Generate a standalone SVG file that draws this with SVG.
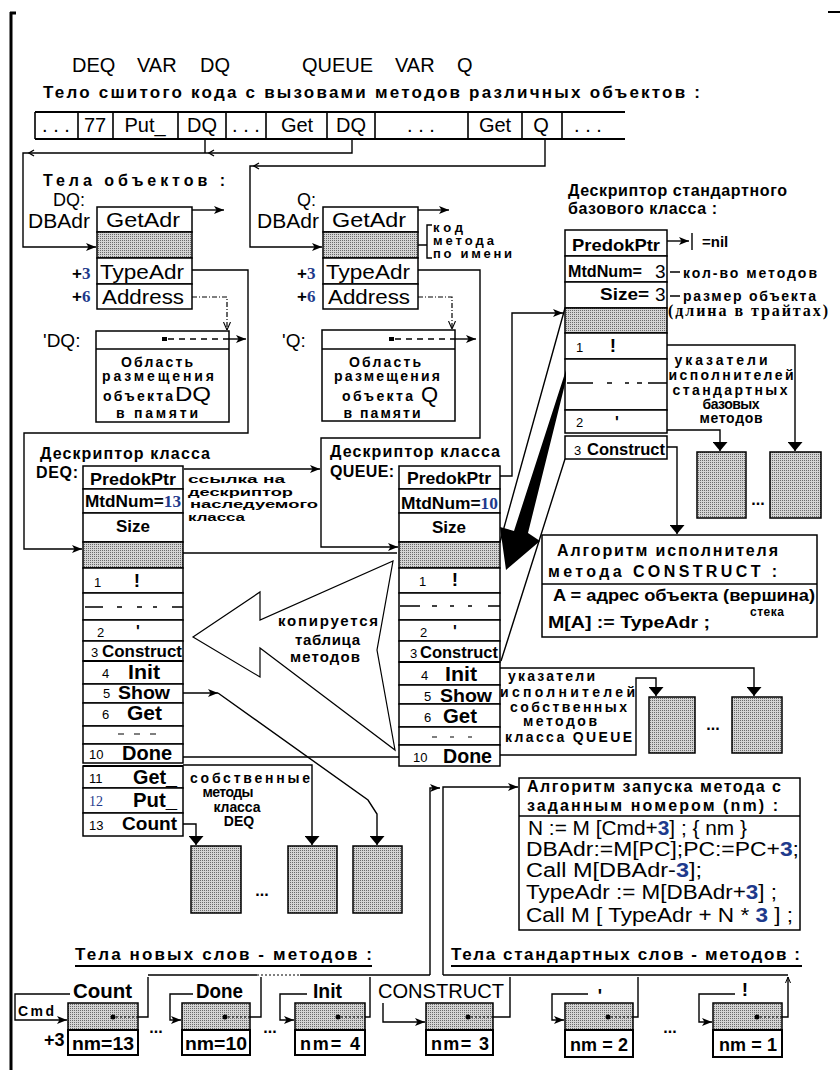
<svg xmlns="http://www.w3.org/2000/svg" width="840" height="1070" viewBox="0 0 840 1070">
<style>
text{font-family:"Liberation Sans",Arial,sans-serif;fill:#000}
.b{font-weight:bold}
.sf{font-family:"Liberation Serif","Times New Roman",serif}
.c{text-anchor:middle}
.bl{fill:#1e3a8c}
.ln{fill:none;stroke:#000;stroke-width:1.4}
.dd{fill:none;stroke:#000;stroke-width:1.2;stroke-dasharray:5,2,1,2}
.dt{fill:none;stroke:#000;stroke-width:1.2;stroke-dasharray:2,2}
.bx{fill:#fff;stroke:#000;stroke-width:1.5}
.bk{fill:#fff;stroke:#000;stroke-width:2}
.sh{fill:url(#dots);stroke:#000;stroke-width:1.5}
.th{stroke:#000;stroke-width:2.2}
</style>
<defs>
<pattern id="dots" width="2" height="2" patternUnits="userSpaceOnUse"><rect width="2" height="2" fill="#d4d4d4"/><rect width="1" height="1" fill="#6a6a6a"/></pattern>
<marker id="a" viewBox="0 0 10 8" refX="10" refY="4" markerWidth="10" markerHeight="8" orient="auto" markerUnits="userSpaceOnUse"><path d="M0,0L10,4L0,8L2.5,4z" fill="#000"/></marker>
<marker id="D" viewBox="0 0 9 15" refX="9" refY="7.5" markerWidth="9" markerHeight="15" orient="auto" markerUnits="userSpaceOnUse"><path d="M0,0L9,7.5L0,15z" fill="#000"/></marker>
<marker id="o" viewBox="0 0 6 6" refX="6" refY="3" markerWidth="6" markerHeight="6" orient="auto" markerUnits="userSpaceOnUse"><path d="M0,0.5L6,3L0,5.5" fill="none" stroke="#000" stroke-width="1"/></marker>
<marker id="v" viewBox="0 0 8 8" refX="8" refY="4" markerWidth="8" markerHeight="8" orient="auto" markerUnits="userSpaceOnUse"><path d="M0,0.5L8,4L0,7.5" fill="none" stroke="#000" stroke-width="1.1"/></marker>
</defs>
<rect width="840" height="1070" fill="#fff"/>

<g id="frame">
<path d="M11,12V1070M10,13H16" stroke="#000" stroke-width="3" fill="none"/>
<path d="M828,12H840" stroke="#000" stroke-width="2"/>
</g>

<g id="header">
<text x="72" y="72" font-size="20">DEQ</text>
<text x="137" y="72" font-size="20">VAR</text>
<text x="200" y="72" font-size="20">DQ</text>
<text x="302" y="72" font-size="20">QUEUE</text>
<text x="395" y="72" font-size="20">VAR</text>
<text x="457" y="72" font-size="20">Q</text>
<text x="43" y="98" font-size="17" class="b" textLength="657">Тело сшитого кода с вызовами методов различных объектов :</text>
</g>

<g id="strip">
<path d="M35,112H625M35,139H625" stroke="#000" stroke-width="2"/>
<path d="M35,112V139M78,112V139M113,112V139M178,112V139M226,112V139M266,112V139M327,112V139M375,112V139M468,112V139M522,112V139M562,112V139" stroke="#000" stroke-width="1.6"/>
<g font-size="20">
<text x="56" y="132" class="c">. . .</text>
<text x="95" y="132" class="c">77</text>
<text x="145" y="132" class="c">Put_</text>
<text x="202" y="132" class="c">DQ</text>
<text x="246" y="132" class="c">. . .</text>
<text x="297" y="132" class="c">Get</text>
<text x="351" y="132" class="c">DQ</text>
<text x="421" y="132" class="c">. . .</text>
<text x="495" y="132" class="c">Get</text>
<text x="541" y="132" class="c">Q</text>
<text x="588" y="132" class="c">. . .</text>
</g>
</g>

<g id="obj-DQ">
<text x="43" y="186" font-size="16" class="b" textLength="182">Тела объектов :</text>
<text x="53" y="206" font-size="18">DQ:</text>
<text x="28" y="228" font-size="20" textLength="62" lengthAdjust="spacingAndGlyphs">DBAdr</text>
<rect x="97" y="207" width="95" height="25" class="bx"/>
<rect x="97" y="232" width="95" height="26" class="sh"/>
<rect x="97" y="258" width="95" height="26" class="bx"/>
<rect x="97" y="284" width="95" height="25" class="bx"/>
<text x="106" y="227" font-size="21" textLength="74" lengthAdjust="spacingAndGlyphs">GetAdr</text>
<text x="100" y="279" font-size="21" textLength="84" lengthAdjust="spacingAndGlyphs">TypeAdr</text>
<text x="102" y="304" font-size="21" fill="#222" textLength="82" lengthAdjust="spacingAndGlyphs">Address</text>
<text x="72" y="279" font-size="17" class="b">+<tspan class="sf bl">3</tspan></text>
<text x="72" y="302" font-size="17" class="b">+<tspan class="sf bl">6</tspan></text>
</g>

<g id="obj-Q">
<text x="297" y="206" font-size="18">Q:</text>
<text x="257" y="228" font-size="20" textLength="62" lengthAdjust="spacingAndGlyphs">DBAdr</text>
<rect x="323" y="207" width="95" height="25" class="bx"/>
<rect x="323" y="232" width="95" height="26" class="sh"/>
<rect x="323" y="258" width="95" height="26" class="bx"/>
<rect x="323" y="284" width="95" height="25" class="bx"/>
<text x="332" y="227" font-size="21" textLength="74" lengthAdjust="spacingAndGlyphs">GetAdr</text>
<text x="326" y="279" font-size="21" textLength="84" lengthAdjust="spacingAndGlyphs">TypeAdr</text>
<text x="328" y="304" font-size="21" fill="#222" textLength="82" lengthAdjust="spacingAndGlyphs">Address</text>
<text x="297" y="279" font-size="17" class="b">+<tspan class="sf bl">3</tspan></text>
<text x="297" y="302" font-size="17" class="b">+<tspan class="sf bl">6</tspan></text>
<path d="M418,245H427M432,225H427V258H432" class="ln" stroke-width="1.1"/>
<g font-size="13" class="b">
<text x="433" y="232" textLength="30">код</text>
<text x="433" y="245" textLength="61">метода</text>
<text x="433" y="258" textLength="79">по имени</text>
</g>
</g>

<g id="area-DQ">
<text x="43" y="347" font-size="19">'DQ:</text>
<rect x="96" y="331" width="133" height="91" class="bx"/>
<path d="M96,349H229" stroke="#000" stroke-width="1.5"/>
<rect x="162" y="337" width="5" height="4"/>
<path d="M168,339H229" stroke="#000" stroke-width="1.3" stroke-dasharray="6,5"/>
<g font-size="14" class="b">
<text x="157" y="367" class="c" textLength="72">Область</text>
<text x="158" y="381" class="c" textLength="112">размещения</text>
<text x="103" y="401" textLength="70">объекта</text>
<text x="157" y="418" class="c" textLength="82">в памяти</text>
</g>
<text x="175" y="401" font-size="20" textLength="36" lengthAdjust="spacingAndGlyphs">DQ</text>
</g>

<g id="area-Q">
<text x="282" y="347" font-size="19">'Q:</text>
<rect x="322" y="330" width="133" height="91" class="bx"/>
<path d="M322,349H455" stroke="#000" stroke-width="1.5"/>
<rect x="389" y="337" width="5" height="4"/>
<path d="M395,339H455" stroke="#000" stroke-width="1.3" stroke-dasharray="6,5"/>
<g font-size="14" class="b">
<text x="385" y="367" class="c" textLength="72">Область</text>
<text x="387" y="381" class="c" textLength="106">размещения</text>
<text x="342" y="401" textLength="71">объекта</text>
<text x="382" y="418" class="c" textLength="77">в памяти</text>
</g>
<text x="421" y="402" font-size="22">Q</text>
</g>

<g id="desc-DEQ">
<text x="40" y="459" font-size="16" class="b" textLength="170">Дескриптор класса</text>
<text x="36" y="478" font-size="16" class="b" textLength="42">DEQ:</text>
<rect x="83" y="466" width="100" height="23" class="bx"/>
<rect x="83" y="489" width="100" height="24" class="bx"/>
<rect x="83" y="513" width="100" height="29" class="bx"/>
<rect x="83" y="542" width="100" height="26" class="sh"/>
<rect x="83" y="568" width="100" height="25" class="bx"/>
<rect x="83" y="593" width="100" height="27" class="bx"/>
<rect x="83" y="620" width="100" height="21" class="bx"/>
<rect x="83" y="641" width="100" height="20" class="bx"/>
<rect x="83" y="661" width="100" height="23" class="bx"/>
<rect x="83" y="684" width="100" height="19" class="bx"/>
<rect x="83" y="703" width="100" height="23" class="bx"/>
<rect x="83" y="726" width="100" height="18" class="bx"/>
<rect x="83" y="744" width="100" height="19" class="bx"/>
<rect x="83" y="766" width="100" height="22" class="bx"/>
<rect x="83" y="788" width="100" height="25" class="bx"/>
<rect x="83" y="813" width="100" height="23" class="bx"/>
<path d="M83,661H183M83,766H183" class="th"/>
<text x="133" y="485" font-size="17" class="b c" textLength="86" lengthAdjust="spacingAndGlyphs">PredokPtr</text>
<text x="85" y="507" font-size="16" class="b" textLength="96" lengthAdjust="spacingAndGlyphs">MtdNum=<tspan class="sf bl">13</tspan></text>
<text x="133" y="532" font-size="17" class="b c">Size</text>
<text x="94" y="587" font-size="13">1</text>
<text x="137" y="587" font-size="19" class="b c">!</text>
<path d="M85,607H103M117,607H122M137,607H142M153,607H157M172,607H183" stroke="#000" stroke-width="1.3"/>
<text x="97" y="637" font-size="13">2</text>
<text x="138" y="637" font-size="16" class="b c">'</text>
<text x="91" y="657" font-size="13">3</text>
<text x="102" y="657" font-size="17" class="b" textLength="80" lengthAdjust="spacingAndGlyphs">Construct</text>
<text x="102" y="678" font-size="13">4</text>
<text x="128" y="679" font-size="20" class="b" textLength="32" lengthAdjust="spacingAndGlyphs">Init</text>
<text x="103" y="698" font-size="13">5</text>
<text x="118" y="699" font-size="19" class="b" textLength="52" lengthAdjust="spacingAndGlyphs">Show</text>
<text x="102" y="719" font-size="13">6</text>
<text x="127" y="720" font-size="20" class="b" textLength="35" lengthAdjust="spacingAndGlyphs">Get</text>
<path d="M118,734H124M134,734H140M150,734H156" stroke="#000" stroke-width="1.2"/>
<text x="89" y="759" font-size="13">10</text>
<text x="122" y="760" font-size="20" class="b" textLength="50" lengthAdjust="spacingAndGlyphs">Done</text>
<text x="89" y="783" font-size="13">11</text>
<text x="133" y="784" font-size="20" class="b" textLength="44" lengthAdjust="spacingAndGlyphs">Get_</text>
<text x="89" y="806" font-size="14" class="sf bl">12</text>
<text x="133" y="807" font-size="20" class="b" textLength="44" lengthAdjust="spacingAndGlyphs">Put_</text>
<text x="89" y="830" font-size="13">13</text>
<text x="122" y="830" font-size="19" class="b" textLength="55" lengthAdjust="spacingAndGlyphs">Count</text>
</g>

<g id="desc-QUEUE">
<text x="330" y="457" font-size="16" class="b" textLength="170">Дескриптор класса</text>
<text x="330" y="477" font-size="16" class="b" textLength="64">QUEUE:</text>
<rect x="399" y="466" width="101" height="23" class="bx"/>
<rect x="399" y="489" width="101" height="24" class="bx"/>
<rect x="399" y="513" width="101" height="29" class="bx"/>
<rect x="399" y="542" width="101" height="26" class="sh"/>
<rect x="399" y="568" width="101" height="25" class="bx"/>
<rect x="399" y="593" width="101" height="27" class="bx"/>
<rect x="399" y="620" width="101" height="21" class="bx"/>
<rect x="399" y="641" width="101" height="21" class="bx"/>
<rect x="399" y="662" width="101" height="23" class="bx"/>
<rect x="399" y="685" width="101" height="19" class="bx"/>
<rect x="399" y="704" width="101" height="23" class="bx"/>
<rect x="399" y="727" width="101" height="18" class="bx"/>
<rect x="399" y="745" width="101" height="21" class="bx"/>
<path d="M399,662H500" class="th"/>
<text x="449" y="484" font-size="17" class="b c" textLength="84" lengthAdjust="spacingAndGlyphs">PredokPtr</text>
<text x="401" y="509" font-size="16" class="b" textLength="97" lengthAdjust="spacingAndGlyphs">MtdNum=<tspan class="sf bl">10</tspan></text>
<text x="449" y="533" font-size="17" class="b c">Size</text>
<text x="419" y="586" font-size="13">1</text>
<text x="455" y="586" font-size="19" class="b c">!</text>
<path d="M400,606H420M432,606H437M450,606H454M468,606H472M488,606H500" stroke="#000" stroke-width="1.3"/>
<text x="420" y="637" font-size="13">2</text>
<text x="455" y="637" font-size="16" class="b c">'</text>
<text x="410" y="658" font-size="13">3</text>
<text x="420" y="658" font-size="17" class="b" textLength="78" lengthAdjust="spacingAndGlyphs">Construct</text>
<text x="421" y="680" font-size="13">4</text>
<text x="445" y="681" font-size="20" class="b" textLength="32" lengthAdjust="spacingAndGlyphs">Init</text>
<text x="424" y="701" font-size="13">5</text>
<text x="440" y="702" font-size="19" class="b" textLength="52" lengthAdjust="spacingAndGlyphs">Show</text>
<text x="424" y="722" font-size="13">6</text>
<text x="443" y="723" font-size="20" class="b" textLength="34" lengthAdjust="spacingAndGlyphs">Get</text>
<path d="M432,737H437M450,737H454M468,737H472" stroke="#000" stroke-width="1.2"/>
<text x="413" y="762" font-size="13">10</text>
<text x="443" y="763" font-size="20" class="b" textLength="49" lengthAdjust="spacingAndGlyphs">Done</text>
</g>

<g id="desc-std">
<text x="568" y="196" font-size="16" class="b" textLength="219">Дескриптор стандартного</text>
<text x="568" y="214" font-size="16" class="b" textLength="149">базового класса :</text>
<rect x="565" y="230" width="102" height="26" class="bx"/>
<rect x="565" y="256" width="102" height="26" class="bx"/>
<rect x="565" y="282" width="102" height="26" class="bx"/>
<rect x="565" y="308" width="102" height="25" class="sh"/>
<rect x="565" y="333" width="102" height="26" class="bx"/>
<rect x="565" y="359" width="102" height="51" class="bx"/>
<rect x="565" y="410" width="102" height="23" class="bx"/>
<rect x="565" y="436" width="102" height="23" class="bx"/>
<text x="616" y="251" font-size="17" class="b c" textLength="88" lengthAdjust="spacingAndGlyphs">PredokPtr</text>
<text x="568" y="277" font-size="16" class="b" textLength="74" lengthAdjust="spacingAndGlyphs">MtdNum=</text>
<text x="655" y="278" font-size="19">3</text>
<text x="600" y="300" font-size="17" class="b" textLength="49" lengthAdjust="spacingAndGlyphs">Size=</text>
<text x="655" y="301" font-size="19">3</text>
<text x="576" y="352" font-size="13">1</text>
<text x="613" y="352" font-size="19" class="b c">!</text>
<path d="M567,383H593M607,383H612M625,383H629M637,383H642M648,383H667" stroke="#000" stroke-width="1.3"/>
<text x="576" y="427" font-size="13">2</text>
<text x="617" y="428" font-size="16" class="b c">'</text>
<text x="574" y="455" font-size="13">3</text>
<text x="587" y="455" font-size="17" class="b" textLength="78" lengthAdjust="spacingAndGlyphs">Construct</text>
<text x="702" y="247" font-size="15" class="b">=nil</text>
<path d="M670,272H680M670,296H680" stroke="#000" stroke-width="1.3"/>
<text x="683" y="278" font-size="14" class="b" textLength="134">кол-во методов</text>
<text x="683" y="301" font-size="14" class="b" textLength="133">размер объекта</text>
<text x="668" y="316" font-size="16" class="b sf" fill="#1f2f70" textLength="160">(длина в трайтах)</text>
<g font-size="14" class="b">
<text x="721" y="365" class="c" textLength="93">указатели</text>
<text x="731" y="380" class="c" textLength="125">исполнителей</text>
<text x="730" y="395" class="c" textLength="115">стандартных</text>
<text x="731" y="409" class="c" textLength="57">базовых</text>
<text x="731" y="423" class="c" textLength="63">методов</text>
</g>
</g>

<g id="gray-std">
<rect x="697" y="452" width="49" height="66" class="sh"/>
<rect x="770" y="452" width="51" height="66" class="sh"/>
<text x="758" y="505" font-size="16" class="b c">...</text>
</g>

<g id="algo-construct">
<rect x="542" y="535" width="275" height="102" class="bx"/>
<path d="M542,584H817" stroke="#000" stroke-width="1.5"/>
<text x="557" y="556" font-size="16" class="b" textLength="221">Алгоритм исполнителя</text>
<text x="548" y="577" font-size="16" class="b" textLength="229">метода CONSTRUCT :</text>
<text x="553" y="601" font-size="16" class="b" textLength="262" lengthAdjust="spacingAndGlyphs">A = адрес объекта (вершина)</text>
<text x="750" y="616" font-size="12" class="b" textLength="34">стека</text>
<text x="548" y="628" font-size="17" class="b" textLength="162" lengthAdjust="spacingAndGlyphs">M[A] := TypeAdr ;</text>
</g>

<g id="queue-own">
<g font-size="14" class="b">
<text x="508" y="681" textLength="87">указатели</text>
<text x="500" y="697" textLength="135">исполнителей</text>
<text x="510" y="712" textLength="117">собственных</text>
<text x="523" y="726" textLength="74">методов</text>
<text x="505" y="742" textLength="127">класса QUEUE</text>
</g>
<rect x="649" y="697" width="46" height="56" class="sh"/>
<rect x="732" y="697" width="50" height="56" class="sh"/>
<text x="713" y="730" font-size="16" class="b c">...</text>
</g>

<g id="algo-launch">
<rect x="519" y="778" width="281" height="152" class="bx"/>
<path d="M519,816H800" stroke="#000" stroke-width="1.5"/>
<text x="527" y="792" font-size="16" class="b" textLength="254">Алгоритм запуска метода с</text>
<text x="527" y="811" font-size="16" class="b" textLength="251">заданным номером (nm) :</text>
<g font-size="20">
<text x="528" y="835" textLength="219" lengthAdjust="spacingAndGlyphs">N := M [Cmd+<tspan class="b bl">3</tspan>] ; { nm }</text>
<text x="526" y="856" textLength="273" lengthAdjust="spacingAndGlyphs">DBAdr:=M[PC];PC:=PC+<tspan class="b bl">3</tspan>;</text>
<text x="526" y="877" textLength="176" lengthAdjust="spacingAndGlyphs">Call M[DBAdr-<tspan class="b bl">3</tspan>];</text>
<text x="526" y="899" textLength="251" lengthAdjust="spacingAndGlyphs">TypeAdr := M[DBAdr+<tspan class="b bl">3</tspan>] ;</text>
<text x="526" y="922" textLength="267" lengthAdjust="spacingAndGlyphs">Call M [ TypeAdr + N * <tspan class="b bl">3</tspan> ] ;</text>
</g>
</g>

<g id="deq-own">
<g font-size="14" class="b">
<text x="190" y="783" textLength="120">собственные</text>
<text x="228" y="797" class="c" textLength="51">методы</text>
<text x="237" y="812" class="c" textLength="47">класса</text>
<text x="239" y="826" class="c">DEQ</text>
</g>
<rect x="191" y="846" width="50" height="67" class="sh"/>
<rect x="288" y="846" width="49" height="67" class="sh"/>
<rect x="353" y="846" width="49" height="67" class="sh"/>
<text x="262" y="896" font-size="16" class="b c">...</text>
</g>

<g id="copy-arrow">
<polygon points="193,637 260,592 260,620 393,561 377,650 395,750 260,648 260,677" fill="none" stroke="#000" stroke-width="1.2"/>
<g font-size="15" class="b">
<text x="278" y="626" textLength="100">копируется</text>
<text x="295" y="645" textLength="65">таблица</text>
<text x="290" y="662" textLength="70">методов</text>
</g>
</g>

<g id="link-note">
<g font-size="11.2" class="b">
<text x="188" y="483" textLength="97" lengthAdjust="spacingAndGlyphs">ссылка на</text>
<text x="188" y="495.5" textLength="105" lengthAdjust="spacingAndGlyphs">дескриптор</text>
<text x="190" y="508" textLength="128" lengthAdjust="spacingAndGlyphs">наследуемого</text>
<text x="188" y="520.5" textLength="57" lengthAdjust="spacingAndGlyphs">класса</text>
</g>
</g>

<g id="words-new">
<text x="75" y="960" font-size="17" class="b" textLength="297">Тела новых слов - методов :</text>
<path d="M75,966H372" stroke="#000" stroke-width="2"/>
<g id="w-count">
<rect x="68" y="1003" width="70" height="27" class="sh" stroke-width="2"/>
<rect x="68" y="1030" width="70" height="25" class="bk"/>
<text x="103" y="1050" font-size="18" class="b c" textLength="62" lengthAdjust="spacingAndGlyphs">nm=13</text>
<text x="73" y="998" font-size="20" class="b" textLength="59" lengthAdjust="spacingAndGlyphs">Count</text>
<text x="18" y="1016" font-size="14" class="b" textLength="36">Cmd</text>
<text x="44" y="1046" font-size="18" class="b">+3</text>
</g>
<g id="w-done">
<rect x="182" y="1003" width="68" height="27" class="sh" stroke-width="2"/>
<rect x="182" y="1030" width="68" height="25" class="bk"/>
<text x="216" y="1050" font-size="18" class="b c" textLength="62" lengthAdjust="spacingAndGlyphs">nm=10</text>
<text x="196" y="998" font-size="20" class="b" textLength="47" lengthAdjust="spacingAndGlyphs">Done</text>
</g>
<g id="w-init">
<rect x="295" y="1003" width="70" height="27" class="sh" stroke-width="2"/>
<rect x="295" y="1030" width="70" height="25" class="bk"/>
<text x="330" y="1050" font-size="18" class="b c" textLength="60">nm= 4</text>
<text x="313" y="998" font-size="20" class="b" textLength="29" lengthAdjust="spacingAndGlyphs">Init</text>
</g>
<g id="w-construct">
<rect x="426" y="1003" width="67" height="27" class="sh" stroke-width="2"/>
<rect x="426" y="1030" width="67" height="25" class="bk"/>
<text x="460" y="1050" font-size="18" class="b c" textLength="58">nm= 3</text>
<text x="378" y="998" font-size="20" textLength="126" lengthAdjust="spacingAndGlyphs">CONSTRUCT</text>
</g>
<text x="156" y="1033" font-size="16" class="b c">...</text>
<text x="270" y="1033" font-size="16" class="b c">...</text>
</g>

<g id="words-std">
<text x="451" y="960" font-size="17" class="b" textLength="349">Тела стандартных слов - методов :</text>
<path d="M451,966H802" stroke="#000" stroke-width="2"/>
<g id="w-tick">
<rect x="565" y="1003" width="68" height="27" class="sh" stroke-width="2"/>
<rect x="565" y="1030" width="68" height="27" class="bk"/>
<text x="599" y="1051" font-size="18" class="b c" textLength="58">nm = 2</text>
<text x="600" y="1002" font-size="18" class="b c">'</text>
</g>
<g id="w-store">
<rect x="713" y="1003" width="69" height="27" class="sh" stroke-width="2"/>
<rect x="713" y="1030" width="69" height="27" class="bk"/>
<text x="748" y="1051" font-size="18" class="b c" textLength="58">nm = 1</text>
<text x="745" y="996" font-size="19" class="b c">!</text>
</g>
<text x="670" y="1033" font-size="16" class="b c">...</text>
</g>

<g id="connectors">
<path d="M205,139V153" class="ln"/>
<path d="M352,139V153H23V247H96" class="ln" marker-end="url(#a)"/>
<path d="M34,150L29,153L34,156M214,150L209,153L214,156M259,163L254,166L259,169" class="ln" stroke-width="1"/>
<path d="M545,139V166H250V247H322" class="ln" marker-end="url(#a)"/>
<path d="M192,210H224" class="ln" marker-end="url(#a)"/>
<path d="M418,210H449" class="ln" marker-end="url(#a)"/>
<path d="M192,270H248V433H24V549H82" class="ln" marker-end="url(#a)"/>
<path d="M418,270H480V438H321V547H398" class="ln" marker-end="url(#a)"/>
<path d="M192,297H227V330" class="dd" marker-end="url(#v)"/>
<path d="M418,297H452V329" class="dd" marker-end="url(#v)"/>
<path d="M229,339H246" class="ln" marker-end="url(#a)"/>
<path d="M455,339H476" class="ln" marker-end="url(#a)"/>
<path d="M184,469H320" class="ln" marker-end="url(#a)"/>
<path d="M500,476H512V313H563" class="ln" marker-end="url(#a)"/>
<path d="M667,241H689" class="ln" marker-end="url(#a)"/>
<path d="M692,233V250" class="ln"/>
<path d="M667,345H795V451" class="ln" marker-end="url(#D)"/>
<path d="M667,430H720V451" class="ln" marker-end="url(#D)"/>
<path d="M667,447H677V534" class="ln" marker-end="url(#D)"/>
<path d="M500,668H754V696" class="ln" marker-end="url(#D)"/>
<path d="M500,755H636V678H656V696" class="ln" marker-end="url(#D)"/>
<path d="M183,824H196V845" class="ln" marker-end="url(#D)"/>
<path d="M183,765H312V845" class="ln" marker-end="url(#D)"/>
<path d="M183,693H218" class="ln" marker-end="url(#a)"/>
<path d="M218,693L368,800L377,814V845" class="ln" marker-end="url(#D)"/>
<path d="M183,553H397" class="ln"/>
<path d="M183,757H399" class="ln"/>
<path d="M565,308L500,542M565,459L501,661" class="ln" stroke-width="1"/>
<polygon points="566,370 566,380 528,533 540,541 506,570 500,527 514,531" fill="#000"/>
<path d="M430,975V788H440" class="ln" marker-end="url(#a)"/>
<path d="M443,975V787H518" class="ln" marker-end="url(#a)"/>
<path d="M148,975H257M300,975H430M443,975H788" class="ln"/>
<path d="M257,975H300" class="dt"/>
<path d="M70,994H15V1020H67" class="ln" marker-end="url(#a)"/>
<path d="M193,994H170V1020H181" class="ln" marker-end="url(#a)"/>
<path d="M307,994H280V1020H294" class="ln" marker-end="url(#a)"/>
<path d="M383,1003V1022H425" class="ln" marker-end="url(#a)"/>
<path d="M588,994H552V1020H564" class="ln" marker-end="url(#a)"/>
<path d="M735,994H699V1022H712" class="ln" marker-end="url(#a)"/>
<g fill="#000"><circle cx="113" cy="1017" r="2.5"/><circle cx="225" cy="1017" r="2.5"/><circle cx="338" cy="1017" r="2.5"/><circle cx="468" cy="1017" r="2.5"/><circle cx="608" cy="1017" r="2.5"/><circle cx="757" cy="1017" r="2.5"/></g>
<path d="M116,1017H138M228,1017H250M341,1017H365M471,1017H493M611,1017H633M760,1017H782" class="dt"/>
<path d="M138,1017H148V977M250,1017H261V977M365,1017H370V977M493,1017H510V977M633,1017H638V977M782,1017H788V977" class="ln" marker-end="url(#o)"/>
</g>
</svg>
